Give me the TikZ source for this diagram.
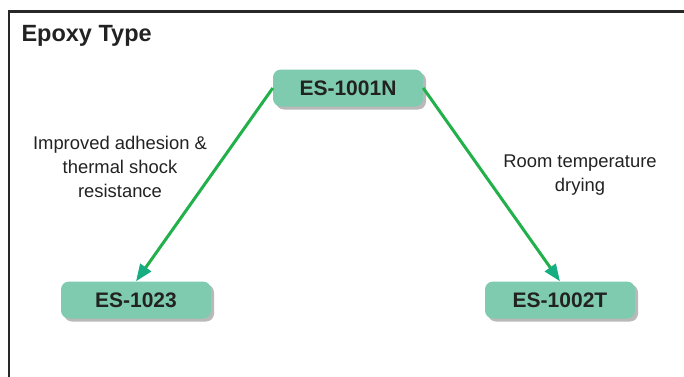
\documentclass[tikz,border=0pt]{standalone}
\usepackage{fontspec}
\setmainfont{Liberation Sans}
\usepackage{tikz}
\usetikzlibrary{arrows.meta}
\usetikzlibrary{shadows}
\usetikzlibrary{positioning}
\definecolor{nodemint}{RGB}{126,203,176}
\definecolor{arrgreen}{RGB}{34,176,74}
\definecolor{tipteal}{RGB}{22,174,128}
\definecolor{textgray}{RGB}{34,34,34}
\definecolor{framegray}{RGB}{40,40,40}

\begin{document}
\begin{tikzpicture}[x=1pt,y=-1pt,
      epoxy node/.style={fill=nodemint,rounded corners=8pt,minimum width=150pt,minimum height=37pt,
        text=textgray,font=\fontsize{21}{25}\selectfont\bfseries,
        drop shadow={shadow xshift=3pt,shadow yshift=-3pt,opacity=0.5,fill=black!55}},
      label text/.style={text=textgray,align=center,font=\fontsize{18.4}{24}\selectfont},
      arr/.style={-{Triangle[length=17pt,width=13pt,color=tipteal]}, line width=3pt, draw=arrgreen}]
    \useasboundingbox (0,0) rectangle (684,376);
    \draw[framegray,line width=2.5pt] (9,377) -- (9,11.5) -- (685,11.5);
    \node[anchor=west,text=textgray,font=\fontsize{23.5}{28}\selectfont\bfseries] (title) at (18,36) {Epoxy Type};
    \node[epoxy node] (es1001n) at (348,88) {ES-1001N};
    \node[epoxy node] (es1023) at (136,300) {ES-1023};
    \node[epoxy node] (es1002t) at (560,300) {ES-1002T};
    \draw[arr] (es1001n.west) -- (es1023.north);
    \draw[arr] (es1001n.east) -- (es1002t.north);
    \node[label text] (adhesion) at (120,167) {Improved adhesion \&\\thermal shock\\resistance};
    \node[label text] (drying) at (580,175) {Room temperature\\drying};
  \end{tikzpicture}
\end{document}
